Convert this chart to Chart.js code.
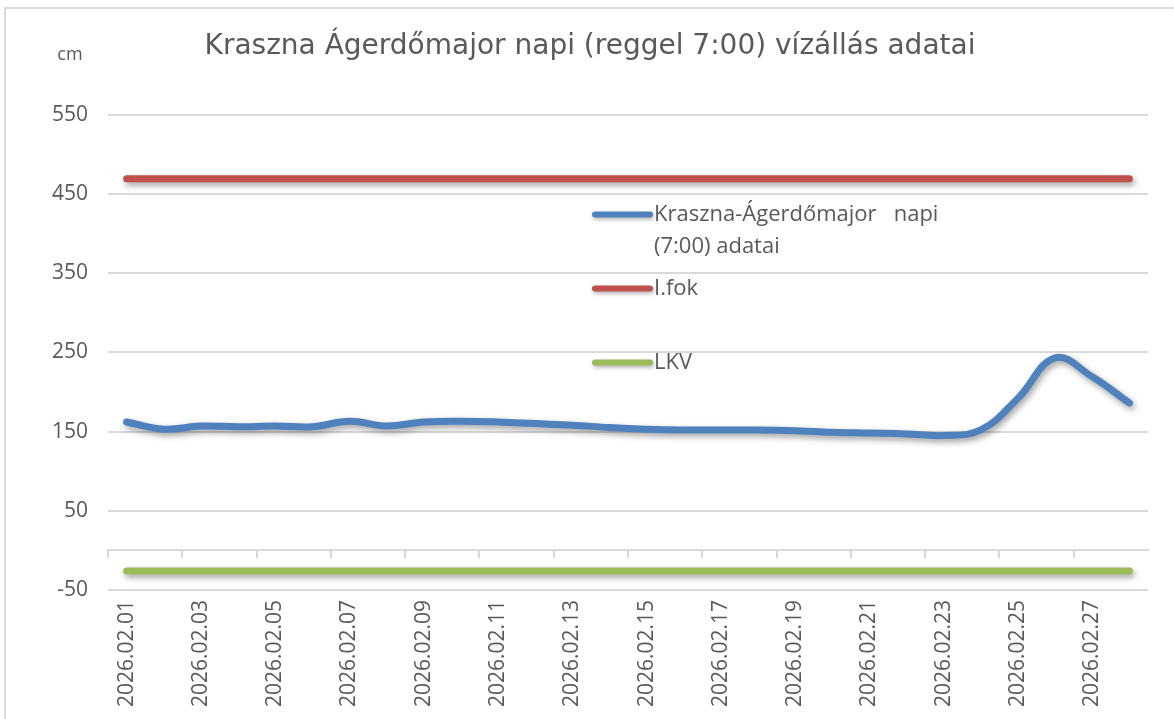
<!DOCTYPE html>
<html lang="hu">
<head>
<meta charset="utf-8">
<title>Kraszna Ágerdőmajor vízállás</title>
<script src="https://cdn.jsdelivr.net/npm/chart.js@4.4.1/dist/chart.umd.min.js"></script>
<style>
  html, body { margin: 0; padding: 0; background: #ffffff; overflow: hidden; }
  canvas { display: block; }
</style>
</head>
<body>
<canvas id="chart" width="1174" height="719"></canvas>
<script>
// Dates of the daily 7:00 readings
const categories = [
  '2026.02.01', '2026.02.02', '2026.02.03', '2026.02.04', '2026.02.05', '2026.02.06', '2026.02.07',
  '2026.02.08', '2026.02.09', '2026.02.10', '2026.02.11', '2026.02.12', '2026.02.13', '2026.02.14',
  '2026.02.15', '2026.02.16', '2026.02.17', '2026.02.18', '2026.02.19', '2026.02.20', '2026.02.21',
  '2026.02.22', '2026.02.23', '2026.02.24', '2026.02.25', '2026.02.26', '2026.02.27', '2026.02.28'
];

// Water level (cm) at Kraszna-Ágerdőmajor
const waterLevel = [
  162, 153, 157, 156, 157, 156, 163, 157, 162, 163,
  162, 160, 158, 155, 153, 152, 152, 152, 151, 149,
  148, 147, 145, 152, 192, 243, 219, 186
];

// Alert level I (I.fok) and lowest known level (LKV), cm
const iFok = [
  469, 469, 469, 469, 469, 469, 469, 469, 469, 469,
  469, 469, 469, 469, 469, 469, 469, 469, 469, 469,
  469, 469, 469, 469, 469, 469, 469, 469
];
const lkv = [
  -26, -26, -26, -26, -26, -26, -26, -26, -26, -26,
  -26, -26, -26, -26, -26, -26, -26, -26, -26, -26,
  -26, -26, -26, -26, -26, -26, -26, -26
];

// Vertical axis
const yMin = -50;
const yMax = 550;
const yStep = 100;

const seriesLabels = [
  ['Kraszna-Ágerdőmajor   napi', '(7:00) adatai'],
  ['I.fok'],
  ['LKV']
];
const seriesColors = ['#4f81bd', '#c0504d', '#9bbb59'];

const textColor = '#595959';
const gridColor = '#d9d9d9';
const tickFont = { family: "'Open Sans', sans-serif", size: 21 };

// Soft drop shadow under every line, as in office charts
const lineShadow = {
  id: 'lineShadow',
  beforeDatasetDraw(chart) {
    const ctx = chart.ctx;
    ctx.save();
    ctx.shadowColor = 'rgba(0,0,0,0.38)';
    ctx.shadowBlur = 6;
    ctx.shadowOffsetX = 2;
    ctx.shadowOffsetY = 3;
  },
  afterDatasetDraw(chart) {
    chart.ctx.restore();
  }
};

// Outer frame, unit label and the in-plot legend
const decorations = {
  id: 'decorations',
  beforeDraw(chart) {
    const ctx = chart.ctx;
    ctx.save();
    ctx.strokeStyle = gridColor;
    ctx.lineWidth = 2;
    ctx.strokeRect(5, 8, chart.width + 40, chart.height + 40);
    ctx.restore();
  },
  afterDraw(chart) {
    const ctx = chart.ctx;
    const area = chart.chartArea;
    ctx.save();
    ctx.fillStyle = textColor;
    ctx.font = "18px 'Open Sans', sans-serif";
    ctx.textAlign = 'center';
    ctx.textBaseline = 'middle';
    ctx.fillText('cm', area.left - 38, area.top - 60);

    // legend entries
    const lx0 = area.left + 487;
    const lx1 = area.left + 542;
    const rows = [area.top + 100, area.top + 174, area.top + 248];
    ctx.font = "22px 'Open Sans', sans-serif";
    ctx.textAlign = 'left';
    chart.data.datasets.forEach((ds, i) => {
      const y = rows[i];
      ctx.save();
      ctx.shadowColor = 'rgba(0,0,0,0.3)';
      ctx.shadowBlur = 4;
      ctx.shadowOffsetX = 1;
      ctx.shadowOffsetY = 2;
      ctx.strokeStyle = ds.borderColor;
      ctx.lineWidth = 6;
      ctx.lineCap = 'round';
      ctx.beginPath();
      ctx.moveTo(lx0, y);
      ctx.lineTo(lx1, y);
      ctx.stroke();
      ctx.restore();
      const lines = seriesLabels[i];
      lines.forEach((t, k) => {
        ctx.fillText(t, lx1 + 4, y + k * 32);
      });
    });
    ctx.restore();
  }
};

const lineStyle = (data, i) => ({
  label: seriesLabels[i].join(' '),
  data: data,
  borderColor: seriesColors[i],
  backgroundColor: seriesColors[i],
  borderWidth: 7,
  borderCapStyle: 'round',
  borderJoinStyle: 'round',
  pointRadius: 0,
  pointHoverRadius: 0,
  tension: 0.4,
  fill: false,
  xAxisID: 'x',
  yAxisID: 'y'
});

new Chart(document.getElementById('chart'), {
  type: 'line',
  data: {
    labels: categories,
    datasets: [lineStyle(waterLevel, 0), lineStyle(iFok, 1), lineStyle(lkv, 2)]
  },
  plugins: [lineShadow, decorations],
  options: {
    responsive: false,
    devicePixelRatio: 1,
    animation: false,
    events: [],
    layout: { padding: { top: 0, left: 6, right: 0, bottom: 0 } },
    plugins: {
      legend: { display: false },
      tooltip: { enabled: false },
      title: {
        display: true,
        text: 'Kraszna Ágerdőmajor napi (reggel 7:00) vízállás adatai',
        color: textColor,
        font: { family: "'DejaVu Sans', sans-serif", size: 28, weight: 'normal', lineHeight: 1.2 },
        padding: { top: 30, bottom: 51 }
      }
    },
    scales: {
      x: {
        type: 'category',
        position: 'bottom',
        offset: true,
        grid: { display: false, drawTicks: false },
        border: { display: false },
        ticks: {
          color: textColor,
          font: tickFont,
          minRotation: 90,
          maxRotation: 90,
          autoSkip: false,
          padding: 10,
          callback(value, index) {
            return index % 2 === 0 ? categories[index] : '';
          }
        },
        afterFit(scale) { scale.height = 129; }
      },
      xAxisLine: {
        type: 'category',
        position: { y: 0 },
        offset: true,
        grid: {
          offset: true,
          drawOnChartArea: false,
          drawTicks: true,
          tickLength: 7,
          lineWidth: 2,
          color: (ctx) => (ctx.index % 2 === 0 ? gridColor : 'rgba(0,0,0,0)')
        },
        border: { display: true, color: gridColor, width: 2 },
        ticks: { display: false, autoSkip: false }
      },
      y: {
        type: 'linear',
        position: 'left',
        min: yMin,
        max: yMax,
        grid: { color: gridColor, lineWidth: 2, drawTicks: false },
        border: { display: false },
        ticks: {
          stepSize: yStep,
          color: textColor,
          font: tickFont,
          padding: 20
        },
        afterFit(scale) { scale.width = 102; }
      },
      // empty right-hand margin strip
      yRight: {
        type: 'linear',
        position: 'right',
        min: yMin,
        max: yMax,
        grid: { display: false },
        border: { display: false },
        ticks: { display: false },
        afterFit(scale) { scale.width = 26; }
      }
    }
  }
});
</script>
</body>
</html>
